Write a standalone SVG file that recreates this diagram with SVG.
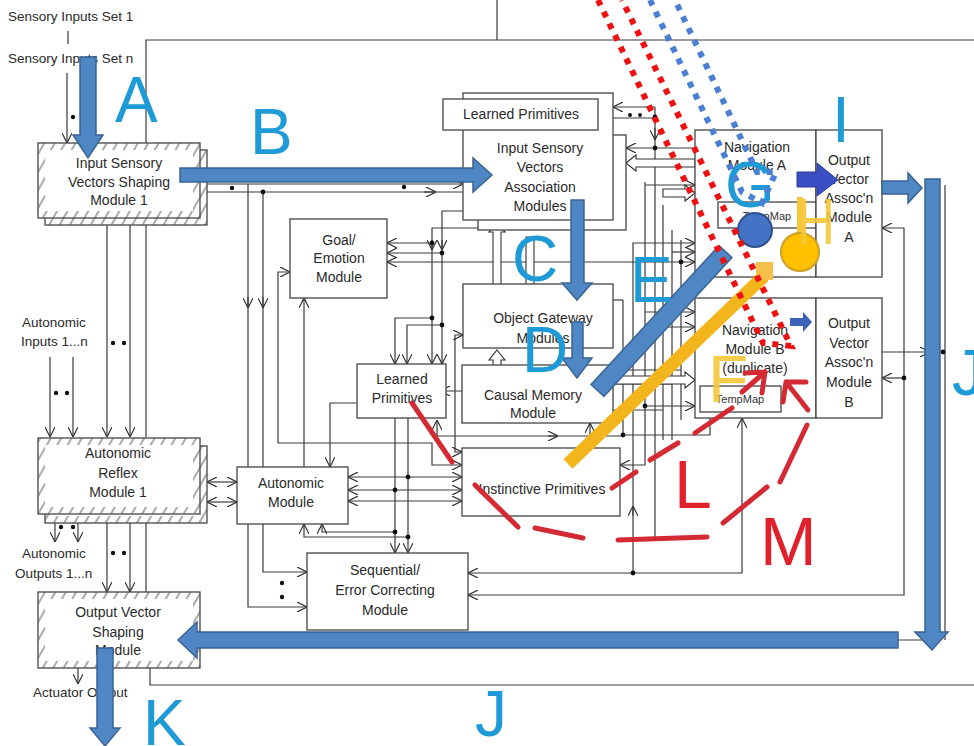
<svg xmlns="http://www.w3.org/2000/svg" width="974" height="746" viewBox="0 0 974 746">
<defs>
<pattern id="hatch" patternUnits="userSpaceOnUse" width="9" height="9" patternTransform="rotate(30)"><line x1="2" y1="0" x2="2" y2="9" stroke="#555" stroke-width="1"/></pattern>
<marker id="a" viewBox="0 0 10 10" refX="10" refY="5" markerWidth="10" markerHeight="10" markerUnits="userSpaceOnUse" orient="auto-start-reverse"><path d="M0,0 L10,5 L0,10" fill="none" stroke="#333" stroke-width="1.2"/></marker>
</defs>
<style>
.t{font-family:"Liberation Sans",Arial,sans-serif;font-size:14px;fill:#2a2a2a;text-anchor:middle}
.s{font-family:"Liberation Sans",Arial,sans-serif;font-size:11px;fill:#333;text-anchor:middle}
.l{font-family:"Liberation Sans",Arial,sans-serif;font-size:13.5px;fill:#2a2a2a}
.box{fill:#fff;stroke:#444;stroke-width:1.3}
.hb{fill:none;stroke:url(#hatch);stroke-width:7}
.big{font-family:"Liberation Sans",Arial,sans-serif;font-size:64px;fill:#1e9ad6}
.blk{fill:#4f86c4;stroke:#3a6494;stroke-width:1.5}
.ho{fill:#fff;stroke:#333;stroke-width:1.1}
.dot{fill:#111}
.rd{fill:none;stroke:#d42a34;stroke-width:5;stroke-linecap:round}
</style>
<rect width="974" height="746" fill="#fff"/>

<g id="connectors" fill="none" stroke="#3a3a3a" stroke-width="1.2">
<path d="M497,0 V40 M146,143 V40 H974"/>
<path d="M150,668 V685 H974"/>
<path d="M68,31 V44"/>
<path d="M67,73 V143" marker-end="url(#a)"/>
<path d="M207,184 H463" marker-end="url(#a)"/>
<path d="M207,192 H463"/>
<path d="M424,192 H436" marker-end="url(#a)"/>
<path d="M248,184 V467 M263,192 V467"/>
<path d="M248,297 V308" marker-end="url(#a)"/>
<path d="M263,297 V308" marker-end="url(#a)"/>
<path d="M107,225 V437" marker-end="url(#a)"/>
<path d="M130,225 V437" marker-end="url(#a)"/>
<path d="M146,225 V437"/>
<path d="M50,357 V437" marker-end="url(#a)"/>
<path d="M73,357 V437" marker-end="url(#a)"/>
<path d="M107,523 V592" marker-end="url(#a)"/>
<path d="M130,523 V592" marker-end="url(#a)"/>
<path d="M146,523 V592"/>
<path d="M55,523 V542" marker-end="url(#a)"/>
<path d="M78,523 V542" marker-end="url(#a)"/>
<path d="M78,668 V684" marker-end="url(#a)"/>
<path d="M207,482 H237" marker-start="url(#a)" marker-end="url(#a)"/>
<path d="M207,502 H237" marker-start="url(#a)" marker-end="url(#a)"/>
<path d="M263,524 V572 H307" marker-end="url(#a)"/>
<path d="M248,524 V607 H307" marker-end="url(#a)"/>
<path d="M478,228 H432 V364" marker-end="url(#a)"/>
<path d="M463,211 H442 V364" marker-end="url(#a)"/>
<path d="M432,240 V250" marker-end="url(#a)"/>
<path d="M442,240 V250" marker-end="url(#a)"/>
<path d="M432,243 H387" marker-end="url(#a)"/>
<path d="M442,253 H387" marker-end="url(#a)"/>
<path d="M695,262 H387" marker-start="url(#a)" marker-end="url(#a)"/>
<path d="M432,318 H395 V364" marker-end="url(#a)"/>
<path d="M442,325 H407 V364" marker-end="url(#a)"/>
<path d="M290,272 H278 V443 H432 V465 H462" marker-start="url(#a)" marker-end="url(#a)"/>
<path d="M304,298 V467" marker-start="url(#a)"/>
<path d="M357,403 H330 V467" marker-end="url(#a)"/>
<path d="M463,335 H455 V452 H462" marker-start="url(#a)" marker-end="url(#a)"/>
<path d="M440,391 H473" marker-start="url(#a)" marker-end="url(#a)"/>
<path d="M437,420 V436 H623" marker-start="url(#a)"/>
<path d="M548,436 H558" marker-end="url(#a)"/>
<path d="M590,423 V448" marker-start="url(#a)" marker-end="url(#a)"/>
<path d="M348,477 H462" marker-start="url(#a)" marker-end="url(#a)"/>
<path d="M348,490 H462" marker-start="url(#a)" marker-end="url(#a)"/>
<path d="M348,501 H462" marker-start="url(#a)" marker-end="url(#a)"/>
<path d="M395,418 V553" marker-end="url(#a)"/>
<path d="M408,418 V553" marker-end="url(#a)"/>
<path d="M395,532 H322 V524" marker-end="url(#a)"/>
<path d="M408,537 H304 V524" marker-end="url(#a)"/>
<path d="M742,418 V573 H468" marker-start="url(#a)" marker-end="url(#a)"/>
<path d="M468,595 H904 V228 H882" marker-start="url(#a)" marker-end="url(#a)"/>
<path d="M882,352 H930" marker-end="url(#a)"/>
<path d="M904,378 H882" marker-end="url(#a)"/>
<path d="M633,573 V243 H695" marker-end="url(#a)"/>
<path d="M633,516 V506" marker-end="url(#a)"/>
<path d="M645,182 V465 H620" marker-end="url(#a)"/>
<path d="M645,185 H695" marker-end="url(#a)"/>
<path d="M623,300 V435 H710 V412"/>
<path d="M655,107 V540"/>
<path d="M655,107 H613" marker-end="url(#a)"/>
<path d="M655,118 H598" marker-end="url(#a)"/>
<path d="M655,128 V140" marker-end="url(#a)"/>
<path d="M695,148 H626" marker-end="url(#a)"/>
<path d="M663,205 V440"/>
<path d="M672,230 V440 M681,240 V420"/>
<path d="M672,252 H695" marker-end="url(#a)"/>
<path d="M645,312 H695" marker-end="url(#a)"/>
<path d="M655,327 H695" marker-end="url(#a)"/>
<path d="M645,406 H695" marker-end="url(#a)"/>
<path d="M613,370 H681 M613,384 H672 M613,410 H663"/>
<path d="M945,185 V640 M898,640 H932"/>
<path d="M613,300 H623"/>
</g>

<g id="hollow-arrows">
<polygon class="ho" points="497,222 505,232 501,232 501,300 505,300 497,310 489,300 493,300 493,232 489,232"/>
<polygon class="ho" points="526,237 534,237 534,300 538,300 530,310 522,300 526,300"/>
<polygon class="ho" points="497,350 505,360 501,360 501,377 505,377 497,387 489,377 493,377 493,360 489,360"/>
<polygon class="ho" points="626,163 636,155 636,159 695,159 695,167 636,167 636,171"/>
<polygon class="ho" points="695,193 685,185 685,189 663,189 663,197 685,197 685,201"/>
<polygon class="ho" points="695,380 685,372 685,376 600,376 600,384 685,384 685,388"/>
</g>

<g id="dots">
<circle class="dot" cx="73" cy="117" r="2.2"/>
<circle class="dot" cx="232" cy="188" r="2.2"/><circle class="dot" cx="404" cy="187" r="2.2"/>
<circle class="dot" cx="263" cy="192" r="2.4"/>
<circle class="dot" cx="113" cy="343" r="2.2"/><circle class="dot" cx="124" cy="343" r="2.2"/>
<circle class="dot" cx="56" cy="393" r="2.2"/><circle class="dot" cx="67" cy="393" r="2.2"/>
<circle class="dot" cx="113" cy="553" r="2.2"/><circle class="dot" cx="124" cy="553" r="2.2"/>
<circle class="dot" cx="61" cy="527" r="2.2"/><circle class="dot" cx="73" cy="527" r="2.2"/>
<circle class="dot" cx="282" cy="583" r="2.2"/><circle class="dot" cx="282" cy="597" r="2.2"/>
<circle class="dot" cx="432" cy="243" r="2.4"/><circle class="dot" cx="442" cy="253" r="2.4"/>
<circle class="dot" cx="432" cy="318" r="2.4"/><circle class="dot" cx="442" cy="325" r="2.4"/>
<circle class="dot" cx="408" cy="477" r="2.4"/><circle class="dot" cx="395" cy="490" r="2.4"/>
<circle class="dot" cx="395" cy="532" r="2.4"/><circle class="dot" cx="408" cy="537" r="2.4"/>
<circle class="dot" cx="623" cy="435" r="2.4"/><circle class="dot" cx="633" cy="573" r="2.4"/>
<circle class="dot" cx="645" cy="406" r="2.4"/><circle class="dot" cx="904" cy="378" r="2.4"/>
<circle class="dot" cx="655" cy="117" r="2.4"/><circle class="dot" cx="655" cy="148" r="2.4"/>
<circle class="dot" cx="630" cy="115" r="2"/><circle class="dot" cx="640" cy="115" r="2"/>
<circle class="dot" cx="681" cy="262" r="2.4"/><circle class="dot" cx="943" cy="352" r="2.4"/>
</g>

<g id="labels-free">
<text class="l" x="8" y="21">Sensory Inputs Set 1</text>
<text class="l" x="8" y="63">Sensory Inputs Set n</text>
<text class="l" x="22" y="327">Autonomic</text>
<text class="l" x="21" y="346">Inputs 1...n</text>
<text class="l" x="22" y="558">Autonomic</text>
<text class="l" x="15" y="578">Outputs 1...n</text>
<text class="l" x="33" y="697">Actuator Output</text>
</g>

<g id="n-isvsm">
<rect class="box" x="45" y="150" width="162" height="75"/><rect class="hb" x="48.5" y="153.5" width="155" height="68"/>
<rect class="box" x="38" y="143" width="162" height="75"/><rect class="hb" x="41.5" y="146.5" width="155" height="68"/>
<text class="t" x="119" y="168">Input Sensory</text><text class="t" x="119" y="187">Vectors Shaping</text><text class="t" x="119" y="205">Module 1</text>
</g>
<g id="n-arm">
<rect class="box" x="45" y="446" width="162" height="77"/><rect class="hb" x="48.5" y="449.5" width="155" height="70"/>
<rect class="box" x="38" y="438" width="162" height="76"/><rect class="hb" x="41.5" y="441.5" width="155" height="69"/>
<text class="t" x="118" y="458">Autonomic</text><text class="t" x="118" y="478">Reflex</text><text class="t" x="118" y="497">Module 1</text>
</g>
<g id="n-ovsm">
<rect class="box" x="38" y="592" width="162" height="76"/><rect class="hb" x="41.5" y="595.5" width="155" height="69"/>
<text class="t" x="118" y="617">Output Vector</text><text class="t" x="118" y="637">Shaping</text><text class="t" x="118" y="655">Module</text>
</g>
<g id="n-isvam">
<rect class="box" x="478" y="135" width="148" height="95"/>
<rect class="box" x="463" y="93" width="150" height="127"/>
<text class="t" x="540" y="153">Input Sensory</text><text class="t" x="540" y="172">Vectors</text><text class="t" x="540" y="192">Association</text><text class="t" x="540" y="211">Modules</text>
</g>
<g id="n-lp-top">
<rect class="box" x="443" y="99" width="155" height="31"/>
<text class="t" x="521" y="119">Learned Primitives</text>
</g>
<g id="n-goal">
<rect class="box" x="290" y="219" width="97" height="79"/>
<text class="t" x="339" y="245">Goal/</text><text class="t" x="339" y="263">Emotion</text><text class="t" x="339" y="282">Module</text>
</g>
<g id="n-ogm">
<rect class="box" x="463" y="284" width="150" height="64"/>
<text class="t" x="543" y="323">Object Gateway</text><text class="t" x="543" y="343">Modules</text>
</g>
<g id="n-cmm">
<rect class="box" x="462" y="365" width="151" height="58"/>
<text class="t" x="533" y="400">Causal Memory</text><text class="t" x="533" y="418">Module</text>
</g>
<g id="n-lp-mid">
<rect class="box" x="357" y="364" width="89" height="54"/>
<text class="t" x="402" y="384">Learned</text><text class="t" x="402" y="403">Primitives</text>
</g>
<g id="n-ip">
<rect class="box" x="462" y="448" width="158" height="68"/>
<text class="t" x="542" y="494">Instinctive Primitives</text>
</g>
<g id="n-am">
<rect class="box" x="237" y="467" width="111" height="57"/>
<text class="t" x="291" y="488">Autonomic</text><text class="t" x="291" y="507">Module</text>
</g>
<g id="n-sec">
<rect class="box" x="307" y="553" width="161" height="77"/>
<text class="t" x="385" y="575">Sequential/</text><text class="t" x="385" y="595">Error Correcting</text><text class="t" x="385" y="615">Module</text>
</g>
<g id="n-nava">
<rect class="box" x="695" y="130" width="121" height="147"/>
<text class="t" x="757" y="152">Navigation</text><text class="t" x="757" y="170">Module A</text>
<rect class="box" x="718" y="202" width="98" height="26"/>
<text class="s" x="767" y="220">TempMap</text>
</g>
<g id="n-ova">
<rect class="box" x="816" y="130" width="66" height="147"/>
<text class="t" x="849" y="165">Output</text><text class="t" x="849" y="184">Vector</text><text class="t" x="849" y="203">Assoc'n</text><text class="t" x="849" y="222">Module</text><text class="t" x="849" y="242">A</text>
</g>
<g id="n-navb">
<rect class="box" x="695" y="298" width="121" height="120"/>
<text class="t" x="755" y="335">Navigation</text><text class="t" x="755" y="354">Module B</text><text class="t" x="755" y="373">(duplicate)</text>
<rect class="box" x="700" y="386" width="81" height="26"/>
<text class="s" x="740" y="403">TempMap</text>
</g>
<g id="n-ovb">
<rect class="box" x="816" y="298" width="66" height="120"/>
<text class="t" x="849" y="328">Output</text><text class="t" x="849" y="348">Vector</text><text class="t" x="849" y="367">Assoc'n</text><text class="t" x="849" y="387">Module</text><text class="t" x="849" y="407">B</text>
</g>

<g id="overlay-arrows">
<polygon class="blk" points="80,57 96,57 96,135 103,135 88,158 73,135 80,135"/>
<polygon class="blk" points="180,168 473,168 473,158 492,175 473,192 473,182 180,182"/>
<polygon class="blk" points="571,200 584,200 584,283 592,283 577,300 562,283 571,283"/>
<polygon class="blk" points="572,322 583,322 583,358 592,358 577,378 562,358 572,358"/>
<line x1="597" y1="391" x2="726" y2="251" stroke="#3a6494" stroke-width="19"/>
<line x1="598" y1="390" x2="725" y2="252" stroke="#4f86c4" stroke-width="16"/>
<polygon class="blk" points="882,181 908,181 908,173 922,188 908,203 908,194 882,194"/>
<polygon class="blk" points="925,179 940,179 940,632 948,632 932,650 915,632 925,632"/>
<polygon class="blk" points="898,632 197,632 197,622 178,640 197,658 197,648 898,648"/>
<polygon class="blk" points="97,648 113,648 113,728 120,728 105,746 90,728 97,728"/>
<polygon points="797,172 817,172 817,163 838,180 817,196 817,187 797,187" fill="#3b4fc4" stroke="#2c3a96" stroke-width="1"/>
<polygon points="790,318 803,318 803,312 812,322 803,332 803,326 790,326" fill="#3b62b8"/>
</g>

<g id="overlay-yellow">
<line x1="568" y1="464" x2="764" y2="276" stroke="#f2b51c" stroke-width="13"/>
<rect x="756" y="262" width="17" height="18" fill="#f5c04a"/>
<circle cx="755" cy="230" r="17" fill="#4472c4" stroke="#2f528f" stroke-width="2"/>
<line x1="800" y1="197" x2="800" y2="235" stroke="#f5c73a" stroke-width="6"/>
<circle cx="800" cy="252" r="19" fill="#ffc000" stroke="#c9a227" stroke-width="2"/>
<text x="797" y="244" font-family="Liberation Sans, Arial, sans-serif" font-size="64" fill="#f5c73a" textLength="38" lengthAdjust="spacingAndGlyphs" opacity="0.9">H</text>
<text x="708" y="402" font-family="Liberation Sans, Arial, sans-serif" font-size="66" fill="#f5c73a" opacity="0.9">F</text>
</g>

<g id="letters">
<text class="big" x="115" y="122">A</text>
<text class="big" x="250" y="154">B</text>
<text class="big" x="512" y="281">C</text>
<text class="big" x="522" y="372">D</text>
<text class="big" x="630" y="302">E</text>
<text class="big" x="725" y="207" font-size="55">G</text>
<text class="big" x="832" y="142" font-size="55">I</text>
<text class="big" x="952" y="395">J</text>
<text class="big" x="475" y="736">J</text>
<text class="big" x="143" y="745">K</text>
<text x="674" y="508" font-family="Liberation Sans, Arial, sans-serif" font-size="68" fill="#e0202a">L</text>
<text x="760" y="565" font-family="Liberation Sans, Arial, sans-serif" font-size="68" fill="#e0202a">M</text>
</g>

<g id="overlay-red-dashes">
<path class="rd" d="M412,403 L452,462 M475,485 L518,527 M535,528 L583,538 M618,540 L707,537 M723,523 L767,487 M780,482 L807,425"/>
<path class="rd" d="M808,410 L786,382 M786,382 L806,382 M786,382 L783,402"/>
<path class="rd" d="M612,488 L636,472 M650,460 L678,443 M695,433 L732,408 M742,392 L765,372 M765,372 L745,373 M765,372 L762,393"/>
</g>

<g id="overlay-dotted">
<path d="M598,0 L763,343 L791,346 L622,0" fill="none" stroke="#ee1111" stroke-width="6" stroke-dasharray="6 7"/>
<path d="M650,0 L742,192 L762,203 L776,172 L757,172 L675,0" fill="none" stroke="#4a7fd4" stroke-width="6" stroke-dasharray="6 7"/>
</g>
</svg>
